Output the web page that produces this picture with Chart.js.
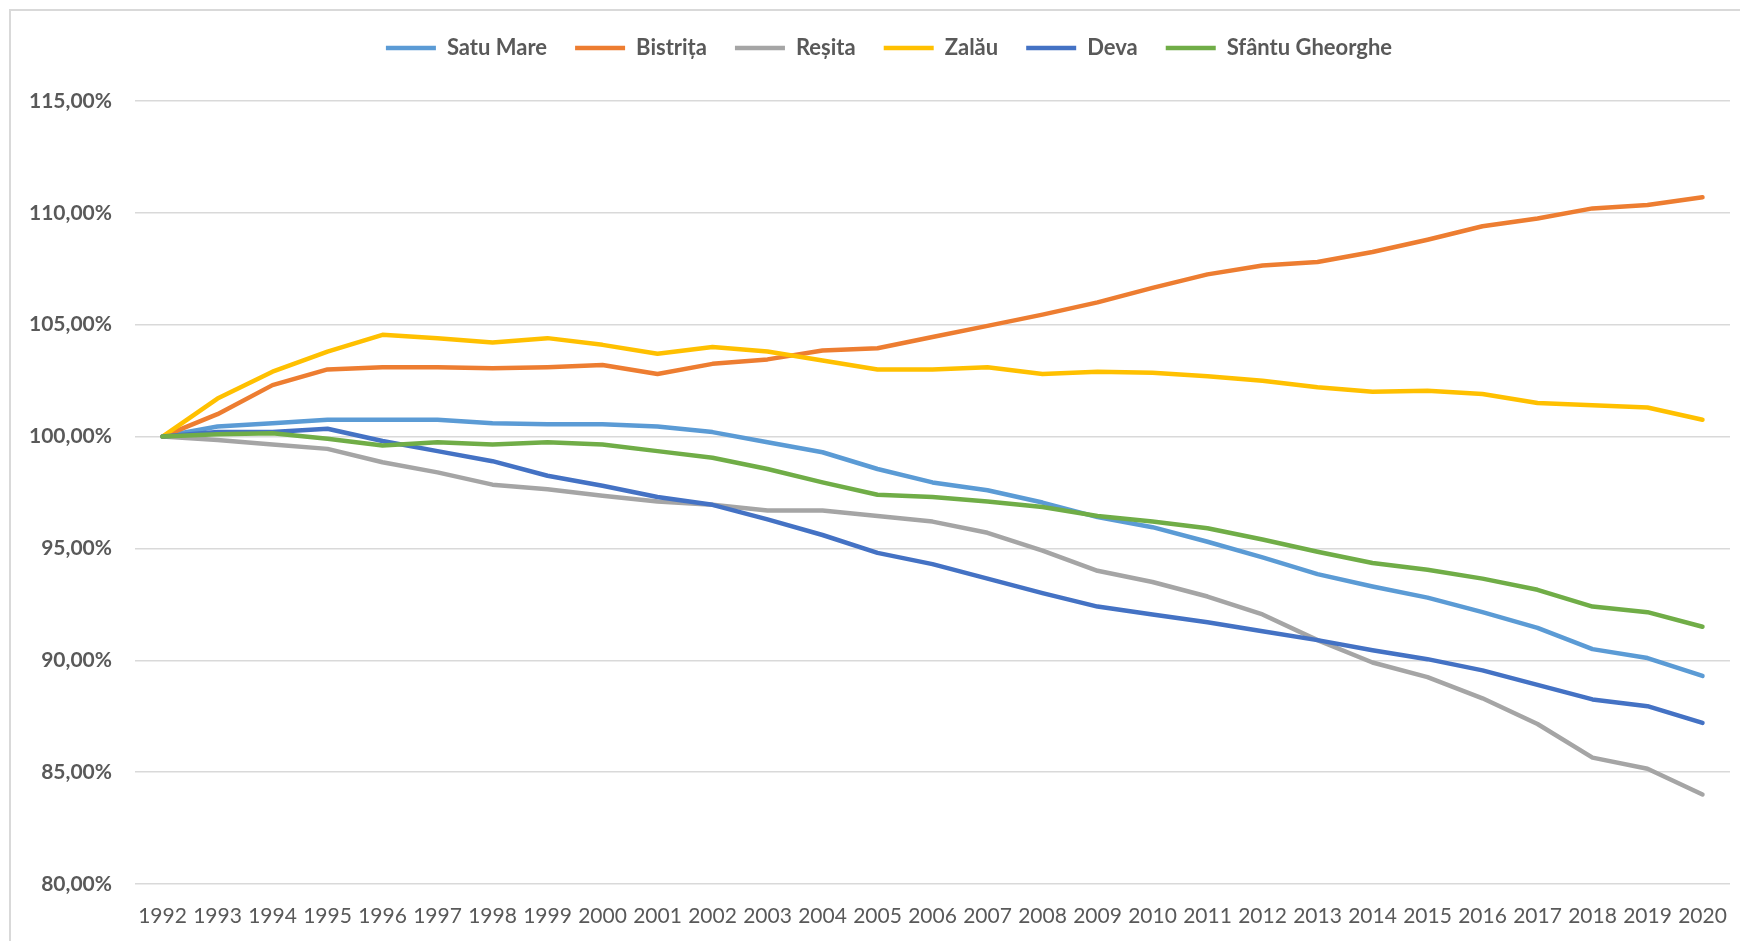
<!DOCTYPE html>
<html>
<head>
<meta charset="utf-8">
<script src="https://cdn.jsdelivr.net/npm/chart.js@4.4.1/dist/chart.umd.min.js"></script>
<style>
  html, body { margin: 0; padding: 0; background: #fff; overflow: hidden; }
  #box {
    position: absolute; left: 9px; top: 9px;
    width: 1756px; height: 1000px;
    border: 2px solid #d9d9d9;
  }
  #wrap { position: absolute; left: 0; top: 0; width: 1756px; height: 930px; }
</style>
</head>
<body>
<div id="box"><div id="wrap"><canvas id="popChart"></canvas></div></div>
<script>
const years = ['1992','1993','1994','1995','1996','1997','1998','1999','2000','2001',
  '2002','2003','2004','2005','2006','2007','2008','2009','2010','2011',
  '2012','2013','2014','2015','2016','2017','2018','2019','2020'];

const satuMare = [100, 100.45, 100.6, 100.75, 100.75, 100.75, 100.6, 100.55, 100.55, 100.45,
  100.2, 99.75, 99.3, 98.55, 97.95, 97.6, 97.05, 96.4, 95.95, 95.3,
  94.6, 93.85, 93.3, 92.8, 92.15, 91.45, 90.5, 90.1, 89.3];
const bistrita = [100, 101.0, 102.3, 103.0, 103.1, 103.1, 103.05, 103.1, 103.2, 102.8,
  103.25, 103.45, 103.85, 103.95, 104.45, 104.95, 105.45, 106.0, 106.65, 107.25,
  107.65, 107.8, 108.25, 108.8, 109.4, 109.75, 110.2, 110.35, 110.7];
const resita = [100, 99.85, 99.65, 99.45, 98.85, 98.4, 97.85, 97.65, 97.35, 97.1,
  96.95, 96.7, 96.7, 96.45, 96.2, 95.7, 94.9, 94.0, 93.5, 92.85,
  92.05, 90.9, 89.9, 89.25, 88.3, 87.15, 85.65, 85.15, 84.0];
const zalau = [100, 101.7, 102.9, 103.8, 104.55, 104.4, 104.2, 104.4, 104.1, 103.7,
  104.0, 103.8, 103.4, 103.0, 103.0, 103.1, 102.8, 102.9, 102.85, 102.7,
  102.5, 102.2, 102.0, 102.05, 101.9, 101.5, 101.4, 101.3, 100.75];
const deva = [100, 100.2, 100.2, 100.35, 99.8, 99.35, 98.9, 98.25, 97.8, 97.3,
  96.95, 96.3, 95.6, 94.8, 94.3, 93.65, 93.0, 92.4, 92.05, 91.7,
  91.3, 90.9, 90.45, 90.05, 89.55, 88.9, 88.25, 87.95, 87.2];
const sfantuGheorghe = [100, 100.1, 100.15, 99.9, 99.6, 99.75, 99.65, 99.75, 99.65, 99.35,
  99.05, 98.55, 97.95, 97.4, 97.3, 97.1, 96.85, 96.45, 96.2, 95.9,
  95.4, 94.85, 94.35, 94.05, 93.65, 93.15, 92.4, 92.15, 91.5];

const seriesNames = ['Satu Mare', 'Bistrița', 'Reșita', 'Zalău', 'Deva', 'Sfântu Gheorghe'];
const seriesData = [satuMare, bistrita, resita, zalau, deva, sfantuGheorghe];
const seriesColors = ['#5B9BD5', '#ED7D31', '#A5A5A5', '#FFC000', '#4472C4', '#70AD47'];

const yTicks = [80, 85, 90, 95, 100, 105, 110, 115];

const textGray = '#595959';
const fontName = 'Lato, "Open Sans", sans-serif';

// extra space between the legend and the plot
const legendGap = {
  id: 'legendGap',
  afterInit(chart) {
    const fit = chart.legend.fit;
    chart.legend.fit = function() {
      fit.call(this);
      this.height += 32;
    };
  }
};

const ctx = document.getElementById('popChart');

new Chart(ctx, {
  type: 'line',
  data: {
    labels: years,
    datasets: seriesNames.map(function(name, i) {
      return {
        label: name,
        data: seriesData[i],
        borderColor: seriesColors[i],
        backgroundColor: seriesColors[i],
        borderWidth: 4.5,
        borderCapStyle: 'round',
        borderJoinStyle: 'round',
        pointRadius: 0,
        pointHoverRadius: 0,
        tension: 0,
        fill: false,
        order: seriesNames.length - i   // later series drawn on top, like Excel
      };
    })
  },
  plugins: [legendGap],
  options: {
    responsive: true,
    maintainAspectRatio: false,
    animation: false,
    layout: { padding: { left: 0, right: 0, top: -2, bottom: 0 } },
    plugins: {
      tooltip: { enabled: false },
      legend: {
        position: 'top',
        labels: {
          usePointStyle: true,
          pointStyle: 'line',
          pointStyleWidth: 50,
          padding: 28,
          color: textGray,
          font: { family: fontName, size: 22, weight: 'bold', lineHeight: 1 },
          sort: function(a, b) { return a.datasetIndex - b.datasetIndex; }
        }
      }
    },
    scales: {
      x: {
        type: 'category',
        offset: true,
        grid: { display: false, drawTicks: false },
        border: { display: false },
        ticks: {
          color: textGray,
          font: { family: fontName, size: 21 },
          padding: 20,
          maxRotation: 0,
          autoSkip: false
        },
        afterFit: function(scale) {
          scale.height = 57;
          scale.paddingRight = 37;
        }
      },
      y: {
        min: 80,
        max: 115,
        afterBuildTicks: function(scale) {
          scale.ticks = yTicks.map(function(v) { return { value: v }; });
        },
        grid: { color: '#d9d9d9', lineWidth: 1.5, drawTicks: false },
        border: { display: false },
        ticks: {
          color: textGray,
          font: { family: fontName, size: 21, weight: 'bold' },
          padding: 23,
          callback: function(value) {
            return value.toFixed(2).replace('.', ',') + '%';
          }
        },
        afterFit: function(scale) {
          scale.width = 124;
        }
      }
    }
  }
});
</script>
</body>
</html>
